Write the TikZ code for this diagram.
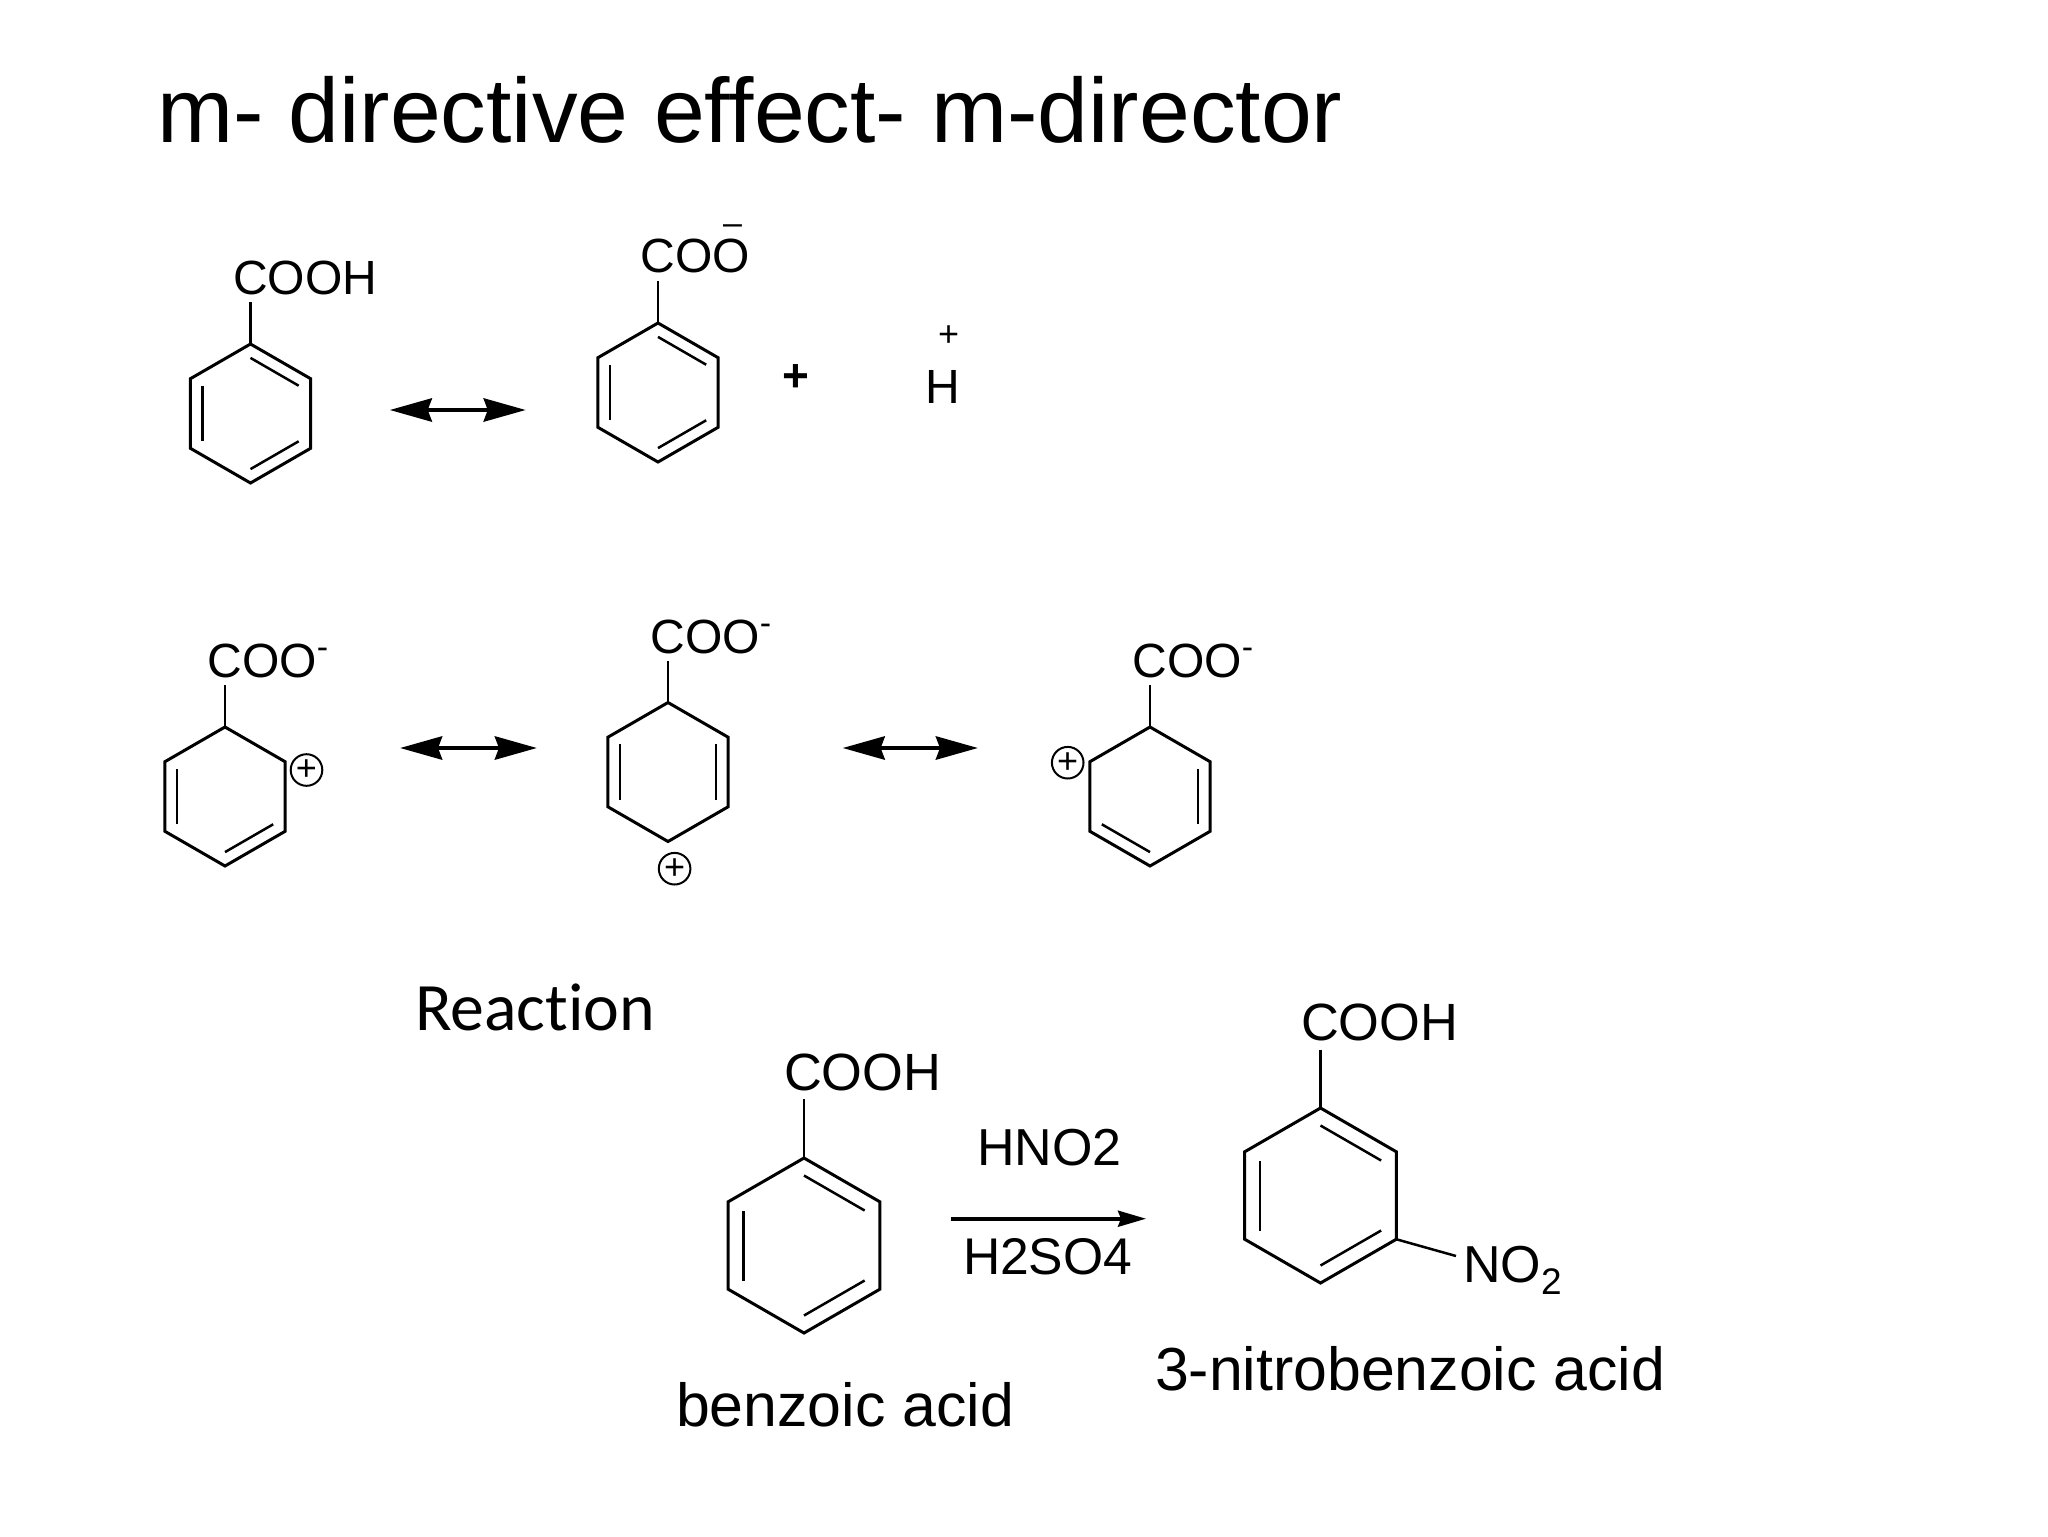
\documentclass[tikz,border=0pt]{standalone}
\usepackage{fontspec}
\setmainfont[Ligatures=NoCommon]{Liberation Sans}
\newfontfamily\calib[Ligatures=NoCommon]{Carlito}
\usetikzlibrary{calc,arrows.meta}
\newcommand{\fsz}[1]{\fontsize{#1}{#1}\selectfont}
\tikzset{
  lab/.style={inner sep=0pt,outer sep=0pt,anchor=base west,text=black},
  ringline/.style={draw=black,line width=1.5pt,line join=miter},
  innerline/.style={draw=black,line width=1.25pt},
  bond/.style={draw=black,line width=1.25pt},
  cplus/.style={draw=black,circle,line width=1pt,minimum size=15.8pt,inner sep=0pt,font=\fsz{18}},
  dbl/.style={draw=black,line width=2.4pt,{Stealth[length=21pt,width=11.5pt,inset=2pt]}-{Stealth[length=21pt,width=11.5pt,inset=2pt]}},
  rxn/.style={draw=black,line width=1.8pt,-{Stealth[length=14pt,width=8pt,inset=1.5pt]}}
}
% name, cx, cy, R, list of double-bond edges
\newcommand{\hexring}[5]{%
  \coordinate (#1c) at (#2,#3);
  \foreach \k in {0,...,5}{\coordinate (#1\k) at ({#2+#4*cos(-90+60*\k)},{#3+#4*sin(-90+60*\k)});}
  \draw[ringline] (#10)--(#11)--(#12)--(#13)--(#14)--(#15)--cycle;
  \foreach \e in {#5}{%
    \pgfmathtruncatemacro{\nxt}{mod(\e+1,6)}
    \draw[innerline] ($(#1c)!0.8!(#1\e)$) -- ($(#1c)!0.8!(#1\nxt)$);
  }%
}
\begin{document}
\begin{tikzpicture}[x=0.5pt,y=-0.5pt]
\useasboundingbox (0,0) rectangle (2048,1536);
\fill[white] (0,0) rectangle (2048,1536);

\node[lab,font=\fsz{45.65}] (title) at (157,142) {m- directive effect- m-director};

% row 1
\hexring{a}{250.5}{413.5}{69.5}{0,2,4}
\coordinate (atop) at (250.5,302);
\draw[bond] (a0) -- (atop);
\node[lab,font=\fsz{24}] (acooh) at (233,294) {COOH};

\hexring{b}{658}{392.5}{69.5}{0,2,4}
\coordinate (btop) at (658,281);
\draw[bond] (b0) -- (btop);
\node[lab,font=\fsz{24}] (bcoo) at (640.5,272) {COO};
\node[lab,font=\fsz{17}] (bminus) at (723,234) {–};

\coordinate (d1l) at (389.7,410);
\coordinate (d1r) at (525.8,410);
\draw[dbl] (d1l) -- (d1r);

\node[lab,font=\bfseries\fsz{23}] (plus1) at (782,391) {+};
\node[lab,font=\fsz{18}] (hplus) at (938,346) {+};
\node[lab,font=\fsz{24}] (hion) at (925.5,403) {H};

% row 2
\hexring{c}{225}{796.5}{69.5}{2,4}
\coordinate (ctop) at (225,685);
\draw[bond] (c0) -- (ctop);
\node[lab,font=\fsz{24}] (ccoo) at (207.5,677) {COO\raisebox{9.4pt}{\fsz{17}-}};
\node[cplus] (cq) at (306.5,770) {+};

\hexring{e}{668}{772}{69.5}{1,4}
\coordinate (etop) at (668,660.7);
\draw[bond] (e0) -- (etop);
\node[lab,font=\fsz{24}] (ecoo) at (650.5,653) {COO\raisebox{9.4pt}{\fsz{17}-}};
\node[cplus] (eq) at (674.6,868.7) {+};

\hexring{f}{1150}{796.5}{69.5}{1,3}
\coordinate (ftop) at (1150,685);
\draw[bond] (f0) -- (ftop);
\node[lab,font=\fsz{24}] (fcoo) at (1132.5,677) {COO\raisebox{9.4pt}{\fsz{17}-}};
\node[cplus] (fq) at (1067.7,762.7) {+};

\coordinate (d2l) at (400,748);
\coordinate (d2r) at (537,748);
\draw[dbl] (d2l) -- (d2r);
\coordinate (d3l) at (842.6,748);
\coordinate (d3r) at (978,748);
\draw[dbl] (d3l) -- (d3r);

% row 3
\node[lab,font=\calib\fsz{33.9}] (react) at (415,1030) {Reaction};

\hexring{g}{804}{1245.5}{87.5}{0,2,4}
\coordinate (gtop) at (804,1099);
\draw[bond] (g0) -- (gtop);
\node[lab,font=\fsz{26.2}] (gcooh) at (784,1090) {COOH};

\hexring{h}{1320.5}{1195.5}{87.5}{0,2,4}
\coordinate (htop) at (1320.5,1050);
\draw[bond] (h0) -- (htop);
\node[lab,font=\fsz{26.2}] (hcooh) at (1301,1040) {COOH};
\node[lab,font=\fsz{26}] (no2) at (1463,1282) {NO\raisebox{-6pt}{\fsz{18.5}2}};
\coordinate (nend) at (1456,1256);
\draw[bond] (h2) -- (nend);

\coordinate (rxl) at (950.5,1218.7);
\coordinate (rxr) at (1146,1218.7);
\draw[rxn] (rxl) -- (rxr);
\node[lab,font=\fsz{26}] (hno) at (977,1165) {HNO2};
\node[lab,font=\fsz{25.8}] (hso) at (963,1274) {H2SO4};

\node[lab,font=\fsz{30.4}] (bz) at (676,1426) {benzoic acid};
\node[lab,font=\fsz{30.4}] (nb) at (1155,1390.7) {3-nitrobenzoic acid};
\end{tikzpicture}
\end{document}
